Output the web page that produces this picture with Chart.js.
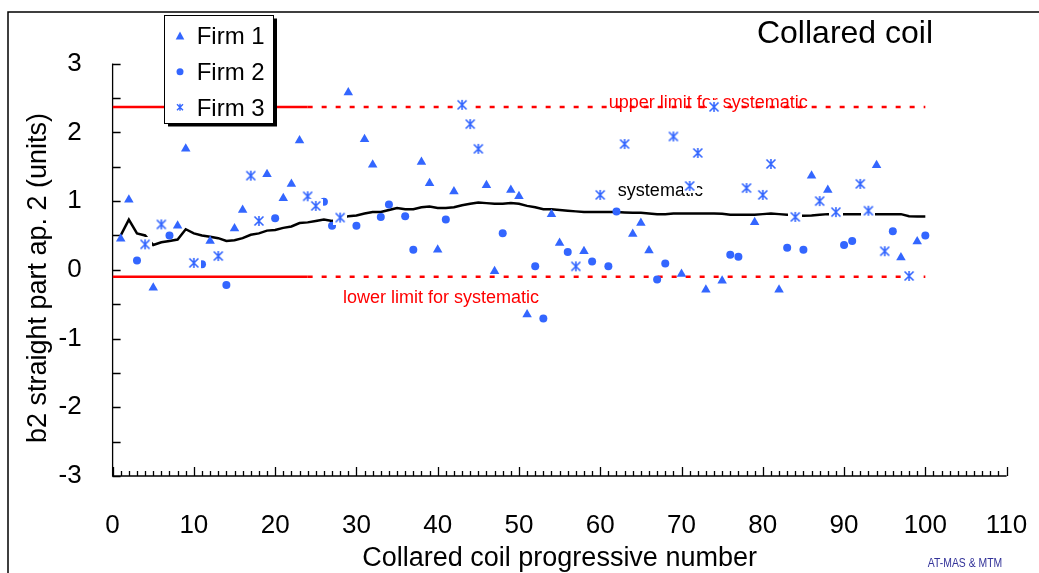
<!DOCTYPE html>
<html>
<head>
<meta charset="utf-8">
<title>Collared coil</title>
<script src="https://cdn.jsdelivr.net/npm/chart.js@4.4.1/dist/chart.umd.min.js"></script>
<style>
  html, body { margin: 0; padding: 0; background: #fff; }
  #wrap { width: 1039px; height: 573px; }
</style>
</head>
<body>
<div id="wrap"><canvas id="coilChart" width="1039" height="573"></canvas></div>
<script>
// values
const coilNumbers = [
  1, 2, 3, 4, 5, 6, 7, 8, 9, 10, 11, 12, 13, 14, 15, 16, 17, 18, 19, 20,
  21, 22, 23, 24, 25, 26, 27, 28, 29, 30, 31, 32, 33, 34, 35, 36, 37, 38, 39, 40,
  41, 42, 43, 44, 45, 46, 47, 48, 49, 50, 51, 52, 53, 54, 55, 56, 57, 58, 59, 60,
  61, 62, 63, 64, 65, 66, 67, 68, 69, 70, 71, 72, 73, 74, 75, 76, 77, 78, 79, 80,
  81, 82, 83, 84, 85, 86, 87, 88, 89, 90, 91, 92, 93, 94, 95, 96, 97, 98, 99, 100,
];
const systematic = [
  0.50, 0.73, 0.53, 0.50, 0.36, 0.40, 0.42, 0.44, 0.59, 0.53,
  0.50, 0.48, 0.46, 0.42, 0.43, 0.46, 0.51, 0.53, 0.57, 0.58,
  0.61, 0.63, 0.68, 0.69, 0.71, 0.73, 0.71, 0.74, 0.78, 0.79,
  0.82, 0.84, 0.84, 0.87, 0.90, 0.88, 0.88, 0.91, 0.92, 0.90,
  0.90, 0.91, 0.94, 0.96, 0.98, 0.97, 0.96, 0.96, 0.97, 0.96,
  0.93, 0.91, 0.88, 0.88, 0.87, 0.86, 0.85, 0.84, 0.84, 0.84,
  0.84, 0.84, 0.835, 0.83, 0.83, 0.82, 0.81, 0.81, 0.82, 0.82,
  0.82, 0.82, 0.82, 0.82, 0.815, 0.80, 0.80, 0.80, 0.80, 0.81,
  0.82, 0.81, 0.80, 0.79, 0.785, 0.79, 0.80, 0.81, 0.81, 0.81,
  0.81, 0.81, 0.81, 0.81, 0.81, 0.81, 0.81, 0.78, 0.775, 0.775,
];

const firm1Coils = [1, 2, 5, 8, 9, 12, 15, 16, 19, 21, 22, 23, 29, 31, 32, 38, 39, 40, 42, 46,
  47, 49, 50, 51, 54, 55, 58, 64, 65, 66, 70, 73, 75, 79, 82, 86, 88, 94, 97, 99];
const firm1B2 = [0.45, 1.02, -0.26, 0.64, 1.76, 0.42, 0.6, 0.87, 1.39, 1.04, 1.25, 1.88, 2.58, 1.9, 1.53, 1.57, 1.26, 0.29, 1.14, 1.23,
  -0.02, 1.16, 1.07, -0.65, 0.81, 0.39, 0.27, 0.52, 0.68, 0.28, -0.06, -0.29, -0.16, 0.69, -0.29, 1.37, 1.16, 1.52, 0.18, 0.41];

const firm2Coils = [3, 7, 11, 14, 20, 26, 27, 30, 33, 34, 36, 37, 41, 48, 52, 53, 56, 59, 61, 62,
  67, 68, 76, 77, 83, 85, 90, 91, 96, 100];
const firm2B2 = [0.135, 0.5, 0.08, -0.22, 0.75, 0.99, 0.64, 0.64, 0.77, 0.95, 0.78, 0.29, 0.73, 0.53, 0.05, -0.71, 0.26, 0.12, 0.05, 0.85,
  -0.14, 0.09, 0.22, 0.19, 0.32, 0.29, 0.36, 0.42, 0.56, 0.5];

const firm3Coils = [4, 6, 10, 13, 17, 18, 24, 25, 28, 43, 44, 45, 57, 60, 63, 69, 71, 72, 74, 78,
  80, 81, 84, 87, 89, 92, 93, 95, 98];
const firm3B2 = [0.37, 0.66, 0.1, 0.2, 1.37, 0.71, 1.07, 0.93, 0.76, 2.4, 2.12, 1.76, 0.05, 1.09, 1.83, 1.94, 1.22, 1.7, 2.37, 1.19,
  1.09, 1.54, 0.77, 1.0, 0.84, 1.25, 0.86, 0.27, -0.09];

// limits: solid up to coil 24, dotted after
const limitCoils = [0, 24, 100];
const upperLimit = [2.37, 2.37, 2.37];
const lowerLimit = [-0.1, -0.1, -0.1];

const xTickLabels = [0, 10, 20, 30, 40, 50, 60, 70, 80, 90, 100, 110];
const yTickLabels = [-3, -2, -1, 0, 1, 2, 3];

const BLUE = "#3366ff";
const FONT = "'Liberation Sans', Arial, sans-serif";

Chart.defaults.font.family = FONT;
Chart.defaults.color = "#000";

function pairs(xs, ys) {
  return xs.map((x, i) => ({ x: x, y: ys[i] }));
}

// excel style star marker, white box behind it
function starMarker(size, box) {
  const c = document.createElement("canvas");
  c.width = box;
  c.height = box;
  const g = c.getContext("2d");
  g.fillStyle = "#fff";
  g.fillRect(0, 0, box, box);
  g.strokeStyle = BLUE;
  g.lineWidth = 1.6;
  const m = box / 2, h = size / 2;
  g.beginPath();
  g.moveTo(m - h, m - h); g.lineTo(m + h, m + h);
  g.moveTo(m - h, m + h); g.lineTo(m + h, m - h);
  g.moveTo(m, m - h - 0.5); g.lineTo(m, m + h + 0.5);
  g.stroke();
  return c;
}

const decorations = {
  id: "decorations",
  beforeDatasetsDraw(chart) {
    const { ctx, chartArea: a, scales: { x, y } } = chart;
    ctx.save();
    // axis lines + inside ticks
    ctx.strokeStyle = "#000";
    ctx.lineWidth = 1.3;
    ctx.beginPath();
    ctx.moveTo(a.left, a.top);
    ctx.lineTo(a.left, a.bottom);
    ctx.lineTo(a.right, a.bottom);
    y.ticks.forEach((t) => {
      const py = Math.round(y.getPixelForValue(t.value)) + 0.5;
      ctx.moveTo(a.left, py);
      ctx.lineTo(a.left + 8, py);
    });
    x.ticks.forEach((t) => {
      const px = Math.round(x.getPixelForValue(t.value)) + 0.5;
      const len = t.value % 10 === 0 ? 9 : 5;
      ctx.moveTo(px, a.bottom);
      ctx.lineTo(px, a.bottom - len);
    });
    ctx.stroke();

    // labels on the lines
    ctx.font = "18px " + FONT;
    ctx.textAlign = "center";
    ctx.textBaseline = "alphabetic";
    ctx.fillStyle = "#ff0000";
    ctx.fillText("upper limit for systematic", x.getPixelForValue(73.3), y.getPixelForValue(2.37) + 1);
    ctx.fillText("lower limit for systematic", x.getPixelForValue(40.4), y.getPixelForValue(-0.49));
    ctx.fillStyle = "#000";
    ctx.fillText("systematic", x.getPixelForValue(67.4), y.getPixelForValue(1.07));
    ctx.restore();
  },
  afterDraw(chart) {
    const { ctx, chartArea: a } = chart;
    ctx.save();
    // outer frame
    ctx.strokeStyle = "#000";
    ctx.lineWidth = 1.5;
    ctx.beginPath();
    ctx.moveTo(8, 573);
    ctx.lineTo(8, 12);
    ctx.lineTo(1039, 12);
    ctx.stroke();

    ctx.fillStyle = "#000";
    ctx.textBaseline = "alphabetic";
    ctx.textAlign = "center";
    ctx.font = "32px " + FONT;
    ctx.fillText("Collared coil", 845, 42.7);

    ctx.font = "27px " + FONT;
    ctx.fillText("Collared coil progressive number", (a.left + a.right) / 2, 566);

    ctx.save();
    ctx.translate(46, 278);
    ctx.rotate(-Math.PI / 2);
    ctx.fillText("b2 straight part ap. 2 (units)", 0, 0);
    ctx.restore();

    // credit
    ctx.save();
    ctx.fillStyle = "#333399";
    ctx.font = "13px " + FONT;
    ctx.translate(965, 567);
    ctx.scale(0.8, 1);
    ctx.fillText("AT-MAS & MTM", 0, 0);
    ctx.restore();

    // legend box with shadow
    ctx.fillStyle = "#000";
    ctx.fillRect(168, 18.5, 109, 108);
    ctx.fillStyle = "#fff";
    ctx.fillRect(164.5, 15.5, 109, 108);
    ctx.lineWidth = 1;
    ctx.strokeRect(164.5, 15.5, 109, 108);

    ctx.fillStyle = BLUE;
    ctx.beginPath();
    ctx.moveTo(180, 31.5);
    ctx.lineTo(184.3, 39.5);
    ctx.lineTo(175.7, 39.5);
    ctx.closePath();
    ctx.fill();
    ctx.beginPath();
    ctx.arc(180, 71.7, 3.5, 0, Math.PI * 2);
    ctx.fill();
    ctx.strokeStyle = BLUE;
    ctx.lineWidth = 1.4;
    ctx.beginPath();
    ctx.moveTo(177, 104.3); ctx.lineTo(183, 110.3);
    ctx.moveTo(177, 110.3); ctx.lineTo(183, 104.3);
    ctx.moveTo(180, 103.8); ctx.lineTo(180, 110.8);
    ctx.stroke();

    ctx.fillStyle = "#000";
    ctx.textAlign = "left";
    ctx.font = "24px " + FONT;
    ctx.fillText("Firm 1", 196.7, 44.3);
    ctx.fillText("Firm 2", 196.7, 80);
    ctx.fillText("Firm 3", 196.7, 115.7);
    ctx.restore();
  },
};

new Chart("coilChart", {
  type: "scatter",
  data: {
    datasets: [
      {
        label: "Firm 3",
        data: pairs(firm3Coils, firm3B2),
        pointStyle: starMarker(9, 14),
        pointRadius: 5,
        order: 0,
      },
      {
        label: "Firm 2",
        data: pairs(firm2Coils, firm2B2),
        pointStyle: "circle",
        pointRadius: 4,
        backgroundColor: BLUE,
        borderColor: BLUE,
        borderWidth: 0,
        order: 1,
      },
      {
        label: "Firm 1",
        data: pairs(firm1Coils, firm1B2),
        pointStyle: "triangle",
        pointRadius: 5.5,
        backgroundColor: BLUE,
        borderColor: BLUE,
        borderWidth: 0,
        order: 2,
      },
      {
        label: "systematic",
        data: pairs(coilNumbers, systematic),
        showLine: true,
        pointRadius: 0,
        borderColor: "#000",
        borderWidth: 2.5,
        order: 3,
      },
      {
        label: "upper limit",
        data: pairs(limitCoils, upperLimit),
        showLine: true,
        pointRadius: 0,
        borderColor: "#ff0000",
        borderWidth: 2.5,
        segment: { borderDash: (c) => (c.p0DataIndex === 0 ? [] : [5, 9]) },
        order: 4,
      },
      {
        label: "lower limit",
        data: pairs(limitCoils, lowerLimit),
        showLine: true,
        pointRadius: 0,
        borderColor: "#ff0000",
        borderWidth: 2.5,
        segment: { borderDash: (c) => (c.p0DataIndex === 0 ? [] : [5, 9]) },
        order: 4,
      },
    ],
  },
  options: {
    responsive: false,
    animation: false,
    events: [],
    layout: { padding: { top: 63.6, right: 32.4, left: 0, bottom: 0 } },
    plugins: {
      legend: { display: false },
      tooltip: { enabled: false },
    },
    scales: {
      x: {
        type: "linear",
        min: 0,
        max: 110,
        grid: { display: false },
        border: { display: false },
        ticks: {
          stepSize: 1,
          autoSkip: false,
          maxRotation: 0,
          padding: 26,
          font: { size: 26 },
          callback: (v) => (xTickLabels.includes(v) ? String(v) : ""),
        },
        afterFit: (s) => {
          s.height = 97;
          s.paddingLeft = 0;
          s.paddingRight = 0;
        },
      },
      y: {
        min: -3,
        max: 3,
        grid: { display: false },
        border: { display: false },
        ticks: {
          stepSize: 0.5,
          padding: 23,
          font: { size: 26 },
          callback: (v) => (yTickLabels.includes(v) ? String(v) : ""),
        },
        afterFit: (s) => {
          s.width = 112.6;
          s.paddingTop = 0;
          s.paddingBottom = 0;
        },
      },
    },
  },
  plugins: [decorations],
});
</script>
</body>
</html>
